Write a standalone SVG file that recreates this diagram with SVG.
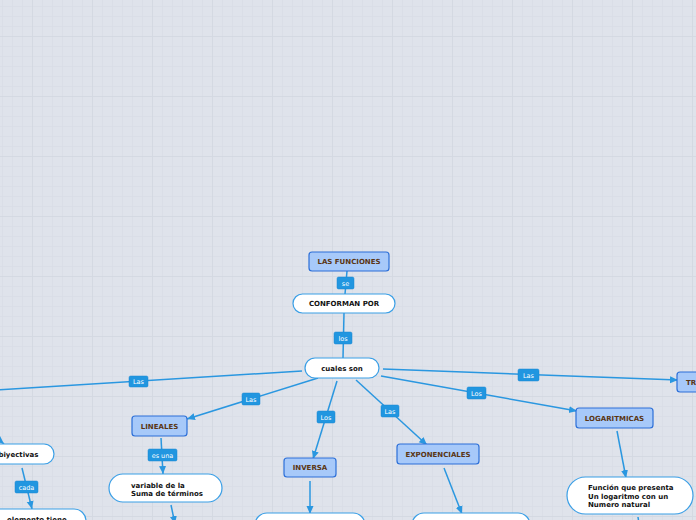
<svg xmlns="http://www.w3.org/2000/svg" width="696" height="520" viewBox="0 0 696 520">
<defs>
<pattern id="grid" patternUnits="userSpaceOnUse" x="32" y="36" width="60" height="60">
<rect width="60" height="60" fill="#dfe3eb"/>
<path d="M10.5 0V60M20.5 0V60M30.5 0V60M40.5 0V60M50.5 0V60M0 10.5H60M0 20.5H60M0 30.5H60M0 40.5H60M0 50.5H60" stroke="#dadee7" stroke-width="1"/>
<path d="M0.5 0V60M0 0.5H60" stroke="#d4d9e2" stroke-width="1"/>
</pattern>
<marker id="arr" markerUnits="userSpaceOnUse" markerWidth="9" markerHeight="8" refX="8" refY="4" orient="auto">
<path d="M0,0.5 L8,4 L0,7.5 z" fill="#2a97e0"/>
</marker>
</defs>
<style>
.ln{fill:none;stroke:#2a97e0;stroke-width:1.5}
.ar{marker-end:url(#arr)}
.lb rect{fill:#2196e0;stroke:#1a86d0;stroke-width:0.5}
.lb text{font-family:"DejaVu Sans",Verdana,sans-serif;font-size:6.5px;fill:#ffffff;text-anchor:middle}
.bn rect{fill:#a7c9f9;stroke:#2c6fd8;stroke-width:1.2}
.bn text{font-family:"DejaVu Sans",Verdana,sans-serif;font-size:7px;font-weight:bold;fill:#5a3512;text-anchor:middle}
.wn rect{fill:#ffffff;stroke:#3a9fe6;stroke-width:1.2}
.wn text{font-family:"DejaVu Sans",Verdana,sans-serif;font-size:7px;font-weight:bold;fill:#111111}
.c{text-anchor:middle}
</style>
<rect width="696" height="520" fill="url(#grid)"/>
<g id="connectors">
<path class="ln" d="M347 271L345 294"/>
<path class="ln" d="M344 313L343 358"/>
<path class="ln" d="M302 371L-5 390"/>
<path class="ln ar" d="M318 378L187 419"/>
<path class="ln ar" d="M337 381L313 459"/>
<path class="ln ar" d="M356 380L427 445"/>
<path class="ln ar" d="M381 376L577 411"/>
<path class="ln ar" d="M383 369L678 380"/>
<path class="ln ar" d="M-10 432L4 444"/>
<path class="ln ar" d="M161 438L163 474"/>
<path class="ln ar" d="M22 468L32 509"/>
<path class="ln ar" d="M171 505L175 524"/>
<path class="ln ar" d="M310 481L310 514"/>
<path class="ln ar" d="M444 468L462 514"/>
<path class="ln ar" d="M617 431L626 478"/>
<path class="ln" d="M638 517L640 530"/>
<g class="lb">
<rect x="337" y="277" width="17" height="12" rx="1.5"/><text x="345.5" y="285.5">se</text>
<rect x="334" y="332" width="18" height="12" rx="1.5"/><text x="343" y="340.5">los</text>
<rect x="129" y="376" width="19" height="11" rx="1.5"/><text x="138.5" y="384">Las</text>
<rect x="242" y="393" width="18" height="12" rx="1.5"/><text x="251" y="401.5">Las</text>
<rect x="317" y="411" width="18" height="12" rx="1.5"/><text x="326" y="419.5">Los</text>
<rect x="381" y="405" width="18" height="12" rx="1.5"/><text x="390" y="413.5">Las</text>
<rect x="467" y="387" width="19" height="12" rx="1.5"/><text x="476.5" y="395.5">Los</text>
<rect x="518" y="369" width="21" height="12" rx="1.5"/><text x="528.5" y="377.5">Las</text>
<rect x="148" y="449" width="29" height="12" rx="1.5"/><text x="162.5" y="457.5">es una</text>
<rect x="15" y="481" width="23" height="12" rx="1.5"/><text x="26.5" y="489.5">cada</text>
</g>
</g>
<g id="n-funciones" class="bn"><rect x="309" y="252" width="80" height="19" rx="3"/><text x="349" y="264">LAS FUNCIONES</text></g>
<g id="n-conforman" class="wn"><rect x="293" y="294" width="102" height="19" rx="9.5"/><text class="c" x="344" y="306">CONFORMAN POR</text></g>
<g id="n-cuales" class="wn"><rect x="305" y="358" width="74" height="20" rx="10"/><text class="c" x="342" y="370.5">cuales son</text></g>
<g id="n-lineales" class="bn"><rect x="132" y="416" width="55" height="20" rx="3"/><text x="159.5" y="428.5">LINEALES</text></g>
<g id="n-inversa" class="bn"><rect x="284" y="458" width="52" height="19" rx="3"/><text x="310" y="470">INVERSA</text></g>
<g id="n-exponenciales" class="bn"><rect x="397" y="444" width="82" height="20" rx="3"/><text x="438" y="456.5">EXPONENCIALES</text></g>
<g id="n-logaritmicas" class="bn"><rect x="576" y="408" width="77" height="20" rx="3"/><text x="614.5" y="420.5">LOGARITMICAS</text></g>
<g id="n-tr" class="bn"><rect x="677" y="372" width="60" height="20" rx="3"/><text x="686" y="384.5" style="text-anchor:start">TR</text></g>
<g id="n-biyectivas" class="wn"><rect x="-40" y="444" width="94" height="20" rx="10"/><text x="38.5" y="456.5" style="text-anchor:end">biyectivas</text></g>
<g id="n-elemento" class="wn"><rect x="-30" y="509" width="116" height="30" rx="12"/><text x="7" y="521.5">elemento tiene</text></g>
<g id="n-variable" class="wn"><rect x="109" y="474" width="113" height="28" rx="14"/><text x="131" y="487.5">variable de la</text><text x="131" y="496">Suma de términos</text></g>
<g id="n-inversa-def" class="wn"><rect x="255" y="513" width="110" height="30" rx="12"/></g>
<g id="n-exp-def" class="wn"><rect x="412" y="513" width="118" height="30" rx="12"/></g>
<g id="n-log-def" class="wn"><rect x="567" y="477" width="126" height="37" rx="18.5"/><text x="588" y="490">Función que presenta</text><text x="588" y="498.5">Un logaritmo con un</text><text x="588" y="507">Numero natural</text></g>
</svg>
